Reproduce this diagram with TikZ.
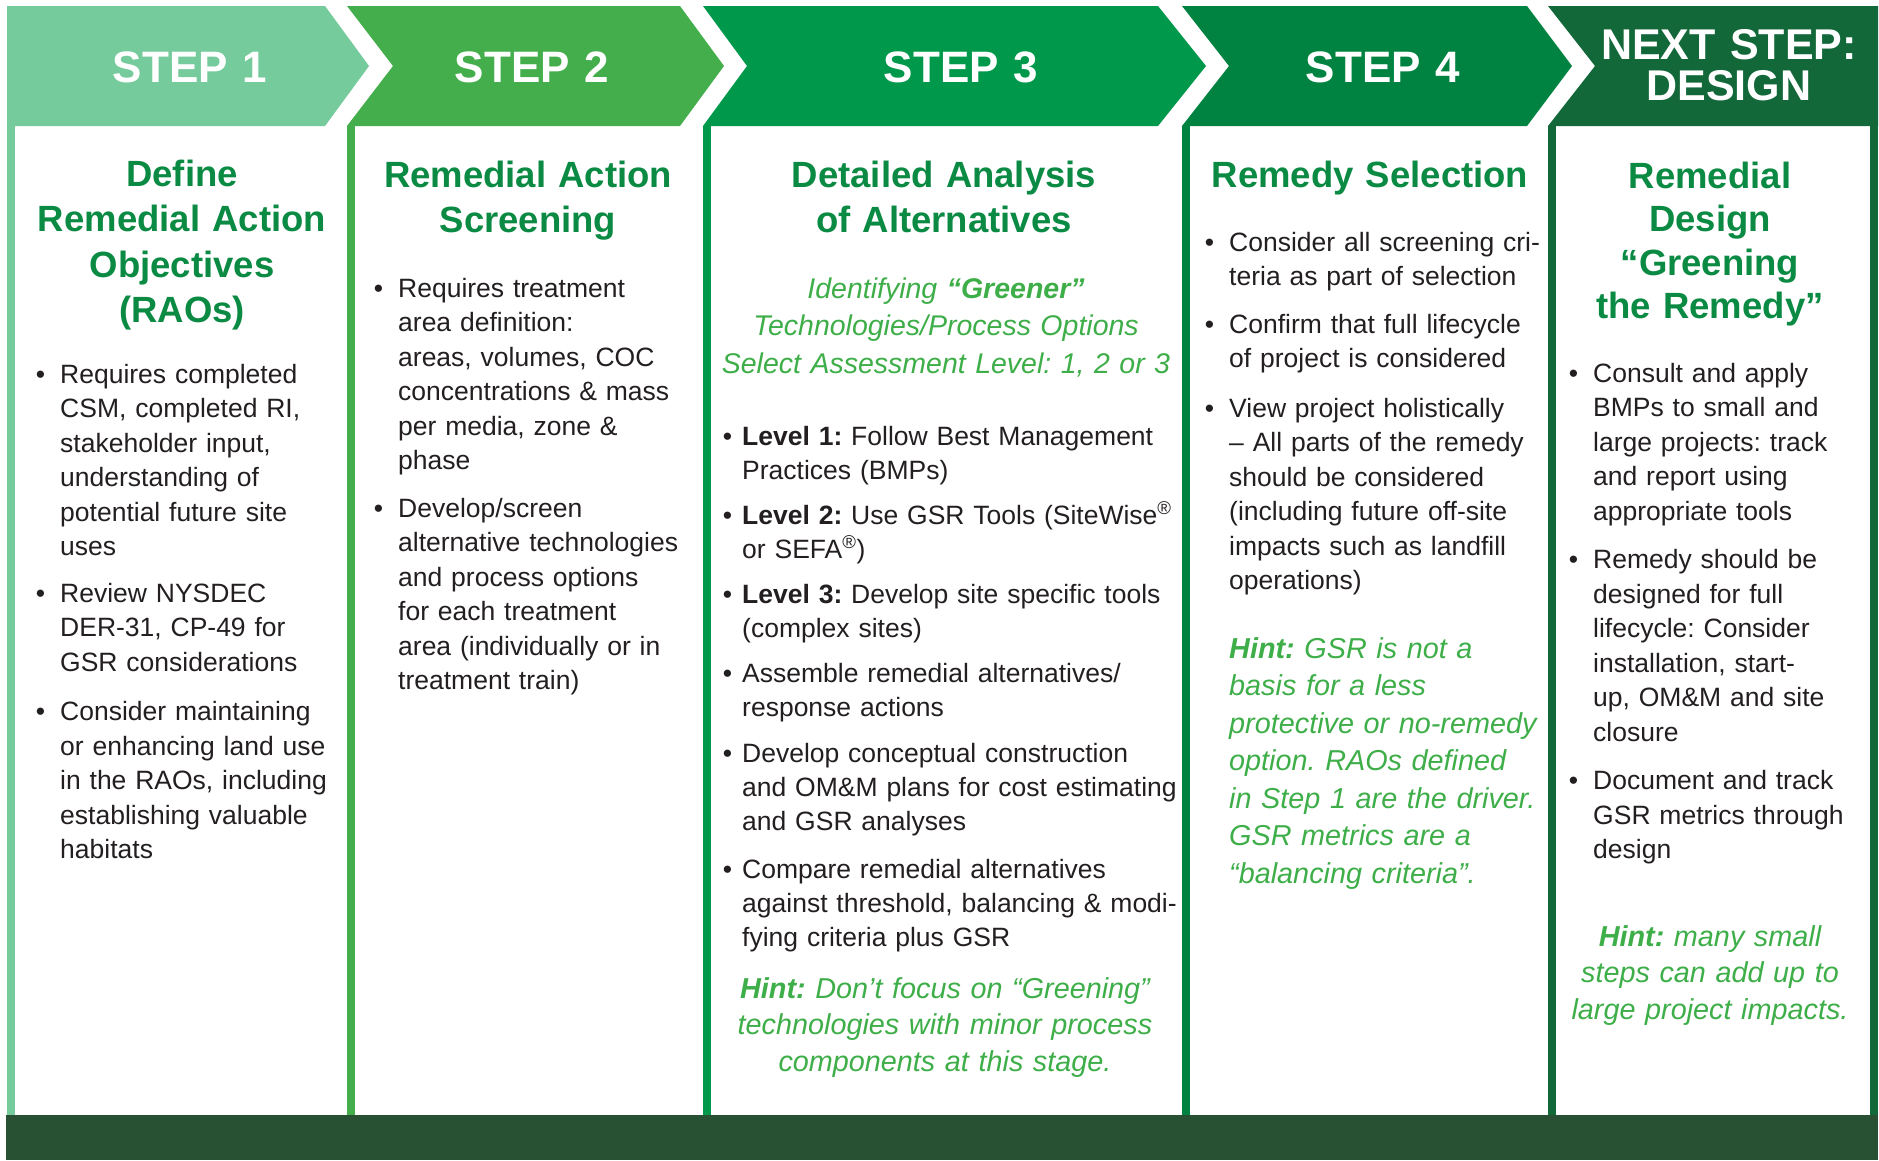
\documentclass[tikz,border=0pt]{standalone}
\usepackage{fontspec}
\setmainfont{Liberation Sans}
\definecolor{stepA}{HTML}{75CB9C}
\definecolor{stepB}{HTML}{43AE4B}
\definecolor{stepC}{HTML}{00984A}
\definecolor{stepD}{HTML}{008241}
\definecolor{stepE}{HTML}{13683A}
\definecolor{band}{HTML}{285133}
\definecolor{titlegreen}{HTML}{0B8A43}
\definecolor{hintgreen}{HTML}{3EAE49}
\definecolor{bodygray}{HTML}{231F20}
\newcommand{\itemdot}[1][15pt]{\leavevmode\llap{\textbullet\hspace{#1}}}

\begin{document}
\begin{tikzpicture}[x=1pt,y=-1pt]
       \tikzstyle{stepnode}=[text=white, font=\bfseries\fontsize{44}{41}\selectfont, text width=400, align=center, inner sep=0, anchor=base]
       \tikzstyle{titlenode}=[text=titlegreen, font=\bfseries\fontsize{36.5}{45.5}\selectfont, text width=500, align=center, inner sep=0, anchor=base]
       \tikzstyle{bodynode}=[text=bodygray, font=\frenchspacing\fontsize{26.5}{34.5}\selectfont, text width=480, align=left, inner sep=0, anchor=base west]
       \tikzstyle{hintnode}=[text=hintgreen, font=\frenchspacing\itshape\fontsize{28.8}{36.5}\selectfont, text width=500, align=center, inner sep=0, anchor=base]
       \path[use as bounding box, fill=white] (0,0) rectangle (1879,1160);
       \foreach \l/\r/\n/\t/\c in {7/325/0/44/stepA, 347/680/46/44/stepB, 703/1158/44/48/stepC, 1182/1527/47/45/stepD, 1548/1878/47/0/stepE}{
         \fill[\c] (\l,6) -- (\r,6) -- ({\r+\t},66) -- (\r,126) -- (\l,126) -- ({\l+\n},66) -- cycle;
         \fill[\c] (\l,126) rectangle ({\l+8},1115);
       }
       \fill[stepE] (1870,126) rectangle (1878,1115);
       \fill[band] (6,1115) rectangle (1878,1160);

       \node[stepnode] (step1) at (190,82) {STEP 1};
       \node[stepnode] (step2) at (532,82) {STEP 2};
       \node[stepnode] (step3) at (961,82) {STEP 3};
       \node[stepnode] (step4) at (1383,82) {STEP 4};
       \node[stepnode, font=\bfseries\fontsize{43}{41}\selectfont] (step5) at (1729,59) {NEXT STEP:\\DESIGN};

       \node[titlenode] (title1) at (182,186) {Define\\Remedial Action\\Objectives\\(RAOs)};
       \node[bodynode] (body1) at (60,383) {\itemdot Requires completed\\CSM, completed RI,\\stakeholder input,\\understanding of\\potential future site\\uses\\[12pt]
         \itemdot Review NYSDEC\\DER-31, CP-49 for\\GSR considerations\\[15pt]
         \itemdot Consider maintaining\\or enhancing land use\\in the RAOs, including\\establishing valuable\\habitats};

       \node[titlenode] (title2) at (528,187) {Remedial Action\\Screening};
       \node[bodynode] (body2) at (398,297) {\itemdot Requires treatment\\area definition:\\areas, volumes, COC\\concentrations \& mass\\per media, zone \&\\phase\\[13pt]
         \itemdot Develop/screen\\alternative technologies\\and process options\\for each treatment\\area (individually or in\\treatment train)};

       \node[titlenode] (title3) at (944,187) {Detailed Analysis\\of Alternatives};
       \node[hintnode, font=\frenchspacing\itshape\fontsize{28.5}{37.5}\selectfont] (sub3) at (946,298) {Identifying \textbf{“Greener”}\\Technologies/Process Options\\Select Assessment Level: 1, 2 or 3};
       \node[bodynode, font=\frenchspacing\fontsize{26.5}{34}\selectfont] (body3) at (742,445) {\itemdot[10pt]\textbf{Level 1:} Follow Best Management\\Practices (BMPs)\\[11pt]
         \itemdot[10pt]\textbf{Level 2:} Use GSR Tools (SiteWise\textsuperscript{®}\\or SEFA\textsuperscript{®})\\[11pt]
         \itemdot[10pt]\textbf{Level 3:} Develop site specific tools\\(complex sites)\\[11pt]
         \itemdot[10pt]Assemble remedial alternatives/\\response actions\\[12pt]
         \itemdot[10pt]Develop conceptual construction\\and OM\&M plans for cost estimating\\and GSR analyses\\[14pt]
         \itemdot[10pt]Compare remedial alternatives\\against threshold, balancing \& modi-\\fying criteria plus GSR};
       \node[hintnode] (hint3) at (945,998) {\textbf{Hint:} Don’t focus on “Greening”\\technologies with minor process\\components at this stage.};

       \node[titlenode] (title4) at (1370,187) {Remedy Selection};
       \node[bodynode] (body4) at (1229,251) {\itemdot Consider all screening cri-\\teria as part of selection\\[13pt]
         \itemdot Confirm that full lifecycle\\of project is considered\\[15pt]
         \itemdot View project holistically\\– All parts of the remedy\\should be considered\\(including future off-site\\impacts such as landfill\\operations)};
       \node[hintnode, font=\frenchspacing\itshape\fontsize{28.8}{37.5}\selectfont, text width=400, align=left, anchor=base west] (hint4) at (1229,658) {\textbf{Hint:} GSR is not a\\basis for a less\\protective or no-remedy\\option. RAOs defined\\in Step 1 are the driver.\\GSR metrics are a\\“balancing criteria”.};

       \node[titlenode, font=\bfseries\fontsize{36.5}{43.5}\selectfont] (title5) at (1710,188) {Remedial\\Design\\“Greening\\the Remedy”};
       \node[bodynode] (body5) at (1593,382) {\itemdot Consult and apply\\BMPs to small and\\large projects: track\\and report using\\appropriate tools\\[14pt]
         \itemdot Remedy should be\\designed for full\\lifecycle: Consider\\installation, start-\\up, OM\&M and site\\closure\\[14pt]
         \itemdot Document and track\\GSR metrics through\\design};
       \node[hintnode] (hint5) at (1710,946) {\textbf{Hint:} many small\\steps can add up to\\large project impacts.};
\end{tikzpicture}
\end{document}
